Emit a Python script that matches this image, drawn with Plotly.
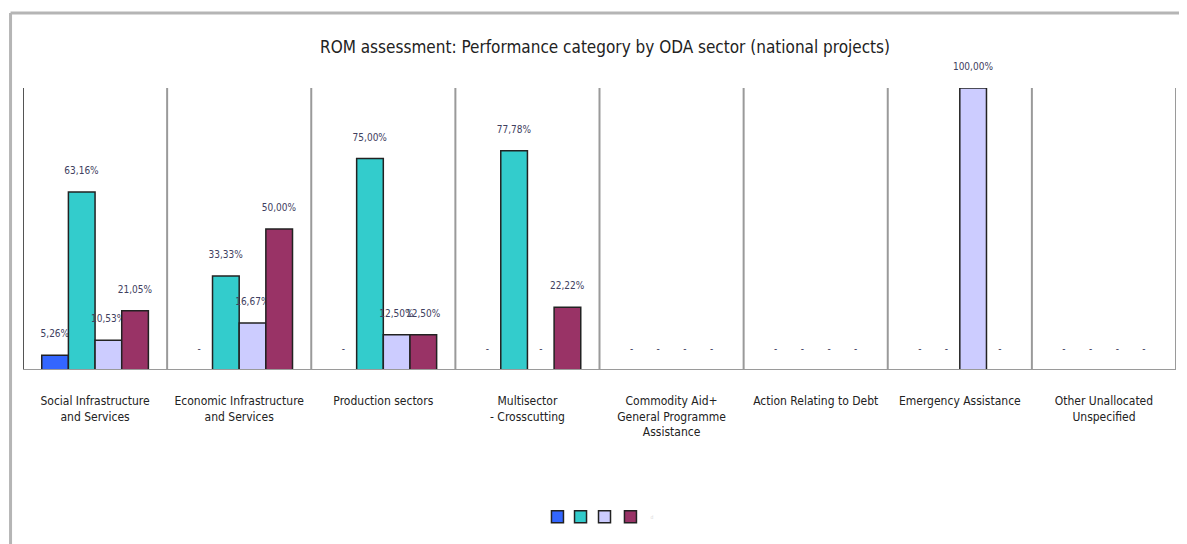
import plotly.graph_objects as go

# sectors (x categories)
sectors = [
    "Social Infrastructure<br>and Services",
    "Economic Infrastructure<br>and Services",
    "Production sectors",
    "Multisector<br>- Crosscutting",
    "Commodity Aid+<br>General Programme<br>Assistance",
    "Action Relating to Debt",
    "Emergency Assistance",
    "Other Unallocated<br>Unspecified",
]

# performance category shares (%)
cat_a = [5.26, 0, 0, 0, 0, 0, 0, 0]
cat_b = [63.16, 33.33, 75.00, 77.78, 0, 0, 0, 0]
cat_c = [10.53, 16.67, 12.50, 0, 0, 0, 100.00, 0]
cat_d = [21.05, 50.00, 12.50, 22.22, 0, 0, 0, 0]

series_names = ["a", "b", "c", "d"]
series_colors = ["#3366FF", "#33CCCC", "#CCCCFF", "#993366"]

FONT = "Liberation Sans Narrow, DejaVu Sans Condensed, Arial Narrow, sans-serif"


def fmt(v):
    # excel style: comma decimals, dash for zero
    if v == 0:
        return "-<br> "
    return ("%.2f%%" % v).replace(".", ",") + "<br> "


xs = list(range(len(sectors)))
legend_ids = ["legend", "legend2", "legend3", "legend4"]
fig = go.Figure()
for name, vals, col, lg in zip(series_names, [cat_a, cat_b, cat_c, cat_d], series_colors, legend_ids):
    fig.add_trace(go.Bar(
        x=xs, y=vals, name=name, legend=lg,
        marker=dict(color=col, line=dict(color="#222222", width=1.5)),
        text=[fmt(v) for v in vals],
        textposition="outside",
        constraintext="none",
        cliponaxis=False,
        textfont=dict(family=FONT, size=10, color="#404060"),
    ))

# vertical separators between sectors
shapes = []
for b in [i - 0.5 for i in range(len(sectors) + 1)]:
    shapes.append(dict(type="line", xref="x", yref="y", x0=b, x1=b, y0=-2.2, y1=100,
                       line=dict(color="#9a9a9a" if b > -0.5 else "#555555", width=2)))
shapes.append(dict(type="line", xref="x", yref="y", x0=-0.5, x1=len(sectors) - 0.5, y0=0, y1=0,
                   line=dict(color="#9a9a9a", width=2)))
# outer chart frame (left and top edges)
shapes.append(dict(type="line", xref="paper", yref="paper", x0=-0.0108, x1=-0.0108, y0=-0.7, y1=1.266,
                   line=dict(color="#b5b5b5", width=3)))
shapes.append(dict(type="line", xref="paper", yref="paper", x0=-0.0108, x1=1.05, y0=1.266, y1=1.266,
                   line=dict(color="#b5b5b5", width=3)))

# one small legend per series, packed tightly like the original
legend_style = dict(orientation="h", xanchor="left", y=-0.52, yanchor="middle",
                    bgcolor="rgba(0,0,0,0)",
                    font=dict(family=FONT, size=5, color="#d8d8d8"), itemwidth=30)
legend_x = [0.4462, 0.4662, 0.4870, 0.5095]

fig.update_layout(
    width=1179, height=536,
    margin=dict(l=15, r=11, t=80, b=174),
    paper_bgcolor="white", plot_bgcolor="white",
    barmode="group", bargap=0.26, bargroupgap=0,
    title=dict(text="ROM assessment: Performance category by ODA sector (national projects)",
               x=0.5064, y=0.9272, xref="container", yref="container",
               xanchor="center", yanchor="middle",
               font=dict(family=FONT, size=17, color="#222222")),
    xaxis=dict(tickvals=xs, ticktext=sectors, range=[-0.5, len(sectors) - 0.5],
               showgrid=False, zeroline=False, showline=False, ticks="",
               ticklabelstandoff=22,
               tickfont=dict(family=FONT, size=12, color="#222222")),
    yaxis=dict(range=[0, 100], visible=False, showgrid=False, zeroline=False),
    showlegend=True,
    legend=dict(x=legend_x[0], **legend_style),
    legend2=dict(x=legend_x[1], **legend_style),
    legend3=dict(x=legend_x[2], **legend_style),
    legend4=dict(x=legend_x[3], **legend_style),
    shapes=shapes,
)

fig.write_html("out.html")
